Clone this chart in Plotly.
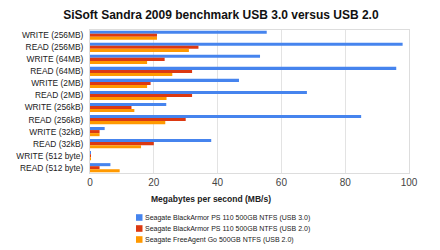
import plotly.graph_objects as go

categories = ["WRITE (256MB)", "READ (256MB)", "WRITE (64MB)", "READ (64MB)",
              "WRITE (2MB)", "READ (2MB)", "WRITE (256kB)", "READ (256kB)",
              "WRITE (32kB)", "READ (32kB)", "WRITE (512 byte)", "READ (512 byte)"]
usb3_blackarmor = [55.4, 98, 53.3, 96, 46.7, 68, 23.9, 85, 4.6, 38, 0.2, 6.4]
usb2_blackarmor = [21, 34, 23.4, 32, 19, 32, 13, 30, 3, 20, 0.2, 3]
usb2_freeagent = [21, 31, 17.9, 25.8, 17.9, 24, 13.9, 23.6, 3, 16, 0.3, 9.3]
series_names = ["Seagate BlackArmor PS 110 500GB NTFS (USB 3.0)",
                "Seagate BlackArmor PS 110 500GB NTFS (USB 2.0)",
                "Seagate FreeAgent Go 500GB NTFS (USB 2.0)"]
x_ticks = [0, 20, 40, 60, 80, 100]

colors = ["#4684ee", "#dc3912", "#ff9900"]
FONT = "Liberation Sans, Arial, sans-serif"

# plot-area geometry (px) used to place the hand-built legend
W, H = 440, 250
ML, MR, MT, MB = 90, 31, 30, 77
PW, PH = W - ML - MR, H - MT - MB


def px_x(px):
    return (px - ML) / PW


def px_y(py):
    return (H - MB - py) / PH


fig = go.Figure()
for name, vals, col in zip(series_names, [usb3_blackarmor, usb2_blackarmor, usb2_freeagent], colors):
    fig.add_trace(go.Bar(y=categories, x=vals, name=name, orientation="h",
                         marker=dict(color=col, line=dict(width=0)), showlegend=False))

shapes = []
annotations = [dict(text="<b>Megabytes per second (MB/s)</b>", xref="paper", yref="paper",
                    x=0.378, y=-0.182, xanchor="center", yanchor="middle", showarrow=False,
                    font=dict(family=FONT, size=8.5, color="#222222"))]
legend_rows = [217.5, 228.5, 239.5]
for name, col, cy in zip(series_names, colors, legend_rows):
    shapes.append(dict(type="rect", xref="paper", yref="paper",
                       x0=px_x(136), x1=px_x(142.5), y0=px_y(cy + 3.3), y1=px_y(cy - 3.3),
                       fillcolor=col, line=dict(width=0)))
    annotations.append(dict(text=name, xref="paper", yref="paper", x=px_x(143), y=px_y(cy),
                            xanchor="left", yanchor="middle", showarrow=False,
                            font=dict(family=FONT, size=7, color="#222222")))

fig.update_layout(
    width=W, height=H,
    margin=dict(l=ML, r=MR, t=MT, b=MB),
    paper_bgcolor="white", plot_bgcolor="white",
    barmode="group", bargap=0.24, bargroupgap=0,
    showlegend=False,
    title=dict(text="<b>SiSoft Sandra 2009 benchmark USB 3.0 versus USB 2.0</b>",
               x=0.502, xanchor="center", y=0.941, yanchor="middle",
               font=dict(family=FONT, size=12, color="#111111")),
    xaxis=dict(range=[0, 100], tickvals=x_ticks, ticktext=[str(t) for t in x_ticks],
               showgrid=True, gridcolor="#e3e3e3", gridwidth=1,
               showline=True, mirror=True, linecolor="#dddddd", linewidth=1,
               zeroline=False, ticks="", tickfont=dict(family=FONT, size=10, color="#444444")),
    yaxis=dict(range=[11.44, -0.44], showgrid=False, showline=True, mirror=True,
               linecolor="#dddddd", linewidth=1, ticks="", ticklabelstandoff=4,
               tickfont=dict(family=FONT, size=8.4, color="#222222")),
    shapes=shapes,
    annotations=annotations,
)

fig.write_html("out.html")
